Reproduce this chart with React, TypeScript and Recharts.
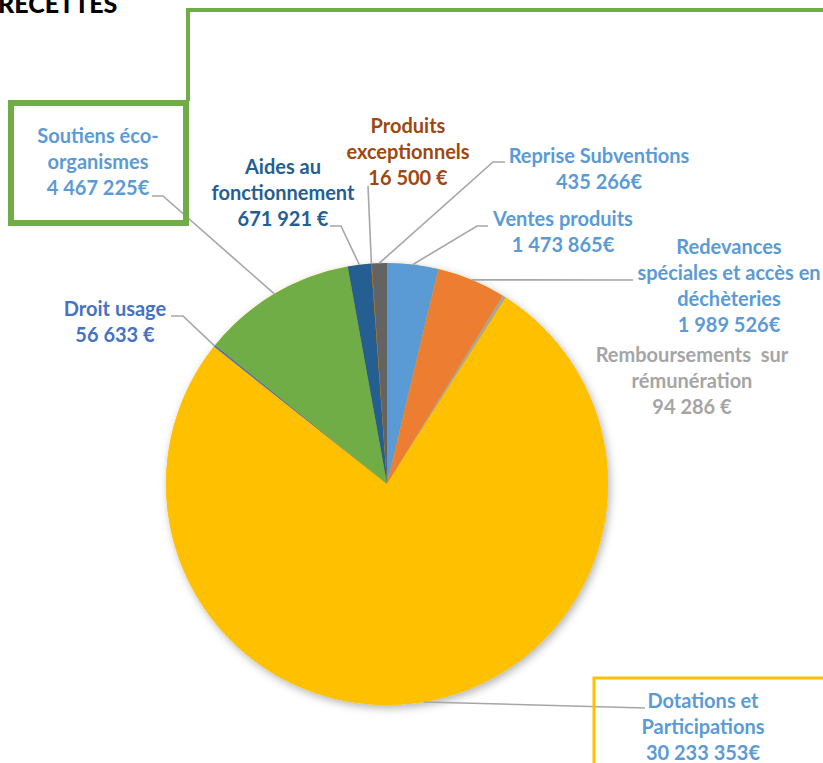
import React from 'react';
import { PieChart, Pie, Cell } from 'recharts';

// slices in clockwise order starting at 12 o'clock
const categories = [
  'Ventes produits',
  'Redevances spéciales et accès en déchèteries',
  'Remboursements sur rémunération',
  'Dotations et Participations',
  'Droit usage',
  'Soutiens éco-organismes',
  'Aides au fonctionnement',
  'Produits exceptionnels',
  'Reprise Subventions',
];
const amounts = [1473865, 1989526, 94286, 30233353, 56633, 4467225, 671921, 16500, 435266];
const amountTexts = [
  '1 473 865€',
  '1 989 526€',
  '94 286 €',
  '30 233 353€',
  '56 633 €',
  '4 467 225€',
  '671 921 €',
  '16 500 €',
  '435 266€',
];
const labelLines = [
  ['Ventes produits'],
  ['Redevances', 'spéciales et accès en', 'déchèteries'],
  ['Remboursements\u00a0 sur', 'rémunération'],
  ['Dotations et', 'Participations'],
  ['Droit usage'],
  ['Soutiens éco-', 'organismes'],
  ['Aides au', 'fonctionnement'],
  ['Produits', 'exceptionnels'],
  ['Reprise Subventions'],
];

const sliceColors = ['#5B9BD5', '#ED7D31', '#A5A5A5', '#FFC000', '#4472C4', '#70AD47', '#255E91', '#9E480E', '#636363'];
const labelColors = ['#5B9BD5', '#5B9BD5', '#A5A5A5', '#5B9BD5', '#4472C4', '#5B9BD5', '#255E91', '#9E480E', '#5B9BD5'];

// label placement (text centre x, first baseline y) and leader points near the label
const labelLayout = [
  { x: 563, y: 226, lead: [[488, 226], [477, 226]] },
  { x: 729, y: 254, lead: [[633, 280]] },
  { x: 692, y: 362, lead: [] },
  { x: 703, y: 708, lead: [[645, 708]] },
  { x: 115, y: 316, lead: [[171, 316], [183, 316]] },
  { x: 98, y: 143, lead: [[152, 196], [163, 196]] },
  { x: 283, y: 174, lead: [[330, 226], [341, 226]] },
  { x: 408, y: 133, lead: [[368, 186]] },
  { x: 599, y: 163, lead: [[505, 162], [493, 162]] },
];

const data = categories.map((name, i) => ({ name, value: amounts[i] }));
const totalData = [{ name: 'total', value: amounts.reduce((s, v) => s + v, 0) }];

const FONT = 'Lato, "Open Sans", sans-serif';
const LINE_H = 26;
const RAD = Math.PI / 180;

const renderLabel = (props: any) => {
  const { cx, cy, midAngle, outerRadius, index } = props;
  const layout = labelLayout[index];
  const ex = cx + outerRadius * Math.cos(-midAngle * RAD);
  const ey = cy + outerRadius * Math.sin(-midAngle * RAD);
  const lines = [...labelLines[index], amountTexts[index]];
  let path = '';
  if (layout.lead.length) {
    path = layout.lead.map((p, i) => `${i === 0 ? 'M' : 'L'}${p[0]},${p[1]}`).join(' ') + ` L${ex},${ey}`;
  }
  return (
    <g key={`lbl-${index}`}>
      {path && <path d={path} fill="none" stroke="#A6A6A6" strokeWidth={1.6} />}
      <text
        x={layout.x}
        y={layout.y}
        textAnchor="middle"
        fill={labelColors[index]}
        fontFamily={FONT}
        fontWeight={700}
        fontSize={20}
      >
        {lines.map((t, i) => (
          <tspan key={i} x={layout.x} dy={i === 0 ? 0 : LINE_H}>
            {t}
          </tspan>
        ))}
      </text>
    </g>
  );
};

export default function App() {
  return (
    <div style={{ position: 'absolute', left: 0, top: 0, width: 823, height: 763, background: '#fff', overflow: 'hidden' }}>
      <PieChart width={823} height={763} margin={{ top: 0, right: 0, bottom: 0, left: 0 }}>
        <defs>
          <filter id="pieShadow" x="-20%" y="-20%" width="140%" height="140%">
            <feDropShadow dx="2" dy="3" stdDeviation="4" floodColor="#000" floodOpacity="0.3" />
          </filter>
        </defs>
        {/* full disc under the slices, only to carry the soft outer shadow */}
        <Pie
          data={totalData}
          dataKey="value"
          cx={387}
          cy={484}
          outerRadius={221}
          startAngle={90}
          endAngle={-270}
          stroke="none"
          isAnimationActive={false}
        >
          <Cell fill="#FFC000" filter="url(#pieShadow)" />
        </Pie>
        <Pie
          data={data}
          dataKey="value"
          nameKey="name"
          cx={387}
          cy={484}
          outerRadius={221}
          startAngle={90}
          endAngle={-270}
          stroke="none"
          label={renderLabel}
          labelLine={false}
          isAnimationActive={false}
        >
          {data.map((d, i) => (
            <Cell key={d.name} fill={sliceColors[i]} />
          ))}
        </Pie>
      </PieChart>
      <svg width={823} height={763} style={{ position: 'absolute', left: 0, top: 0, pointerEvents: 'none' }}>
        <text x={-2} y={13} fontFamily={FONT} fontWeight={900} fontSize={25} fill="#000">
          RECETTES
        </text>
        <rect x={11} y={103} width={175} height={120} fill="none" stroke="#70AD47" strokeWidth={6} />
        <polyline points="188,101 188,10 823,10" fill="none" stroke="#70AD47" strokeWidth={4} />
        <polyline points="594,763 594,678 823,678" fill="none" stroke="#FFC000" strokeWidth={3} />
      </svg>
    </div>
  );
}
